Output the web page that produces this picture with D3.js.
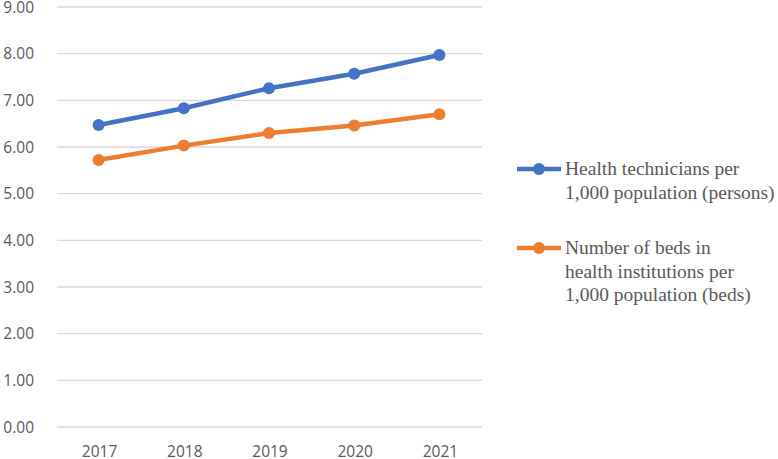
<!DOCTYPE html>
<html><head><meta charset="utf-8">
<script src="https://cdn.jsdelivr.net/npm/d3@7"></script>
<style>body{margin:0;background:#fff}</style>
</head><body>
<svg id="c" width="778" height="459"></svg>
<script>
const years = ["2017","2018","2019","2020","2021"];
const technicians = [6.47, 6.83, 7.26, 7.57, 7.97];
const beds = [5.72, 6.03, 6.30, 6.46, 6.70];
const yTicks = [0,1,2,3,4,5,6,7,8,9];
const seriesNames = [
  ["Health technicians per","1,000 population (persons)"],
  ["Number of beds in","health institutions per","1,000 population (beds)"]
];
const colors = ["#4472C4","#ED7D31"];

const svg = d3.select("#c");
const x = d3.scaleBand().domain(years).range([56, 482]);
const y = d3.scaleLinear().domain([0,9]).range([427, 7]);

const g = svg.append("g");
g.selectAll("line.grid").data(yTicks).join("line")
  .attr("x1",57).attr("x2",482)
  .attr("y1",d=>y(d)).attr("y2",d=>y(d))
  .attr("stroke","#d9d9d9").attr("stroke-width",1.3);

g.selectAll("text.yl").data(yTicks).join("text")
  .attr("x",34).attr("y",d=>y(d)+5.5)
  .attr("text-anchor","end")
  .attr("font-family","Open Sans, sans-serif").attr("font-size",15.5)
  .attr("fill","#595959").text(d=>d.toFixed(2));

g.selectAll("text.xl").data(years).join("text")
  .attr("x",d=>x(d)+x.bandwidth()/2+1).attr("y",457)
  .attr("text-anchor","middle")
  .attr("font-family","Open Sans, sans-serif").attr("font-size",15.5)
  .attr("fill","#595959").text(d=>d);

const data = [technicians, beds];
const line = d3.line().x((d,i)=>x(years[i])+x.bandwidth()/2).y(d=>y(d));
data.forEach((s,k)=>{
  g.append("path").attr("d",line(s)).attr("fill","none")
    .attr("stroke",colors[k]).attr("stroke-width",4.5).attr("stroke-linejoin","round");
  g.selectAll("circle.s"+k).data(s).join("circle")
    .attr("cx",(d,i)=>x(years[i])+x.bandwidth()/2).attr("cy",d=>y(d))
    .attr("r",6).attr("fill",colors[k]);
});

// legend
const legY = [169, 248];
seriesNames.forEach((lines,k)=>{
  const ly = legY[k];
  svg.append("line").attr("x1",517).attr("x2",561).attr("y1",ly).attr("y2",ly)
    .attr("stroke",colors[k]).attr("stroke-width",4.5);
  svg.append("circle").attr("cx",539).attr("cy",ly).attr("r",6).attr("fill",colors[k]);
  lines.forEach((t,j)=>{
    svg.append("text").attr("x",565).attr("y",ly+6+j*23.5)
      .attr("font-family","Liberation Serif, Times New Roman, serif").attr("font-size",19.5)
      .attr("fill","#595959").text(t);
  });
});
</script>
</body></html>
